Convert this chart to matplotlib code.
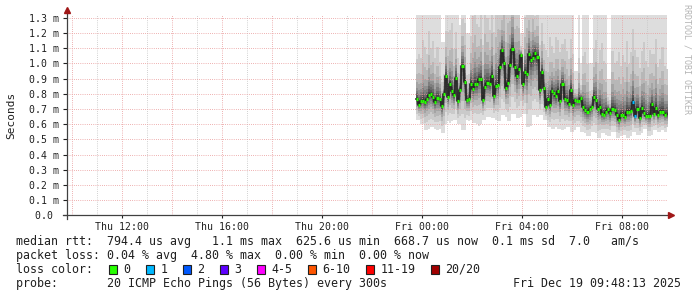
import matplotlib
matplotlib.use("Agg")
import matplotlib.pyplot as plt
import matplotlib.dates as mdates
import numpy as np
import pandas as pd
from matplotlib.patches import Rectangle

# ---- data (values in ms, one sample every 5 minutes) ----
first_sample = "2025-12-18 23:45:00"
window_end = "2025-12-19 09:48:13"

median_ms = [
    0.766, 0.728, 0.750, 0.755, 0.748, 0.766, 0.790, 0.799, 0.779, 0.748,
    0.772, 0.766, 0.720, 0.797, 0.917, 0.779, 0.867, 0.818, 0.790, 0.904,
    0.755, 0.827, 0.983, 0.878, 0.759, 0.766, 0.867, 0.832, 0.864, 0.862,
    0.897, 0.897, 0.761, 0.845, 0.873, 0.864, 0.917, 0.786, 0.851, 0.860,
    0.976,
    1.088, 1.005, 0.838, 0.873, 0.992, 1.095, 0.978, 0.917, 0.963, 1.057,
    0.864, 0.943, 0.930, 1.062, 1.022, 1.036, 1.071, 1.042, 0.825, 0.943,
    0.838, 0.715, 0.766, 0.728, 0.820, 0.803, 0.786, 0.820, 0.755, 0.867,
    0.768, 0.761, 0.735, 0.825, 0.728, 0.759, 0.755, 0.755, 0.772, 0.715,
    0.695, 0.682,
    0.702, 0.715, 0.781, 0.761, 0.702, 0.715, 0.665, 0.663, 0.682, 0.702,
    0.676, 0.702, 0.695, 0.663, 0.630, 0.663, 0.663, 0.649, 0.682, 0.682,
    0.689, 0.748, 0.656, 0.702, 0.643, 0.707, 0.676, 0.656, 0.656, 0.656,
    0.731, 0.669, 0.707, 0.660, 0.682, 0.682, 0.663, 0.667,
]

# fastest ping of each sample
min_ms = [
    0.63, 0.63, 0.60, 0.60, 0.56, 0.56, 0.57, 0.58, 0.58, 0.57,
    0.56, 0.57, 0.54, 0.54, 0.60, 0.62, 0.61, 0.62, 0.63, 0.63,
    0.60, 0.60, 0.56, 0.56, 0.63, 0.62, 0.63, 0.61, 0.61, 0.60,
    0.59, 0.60, 0.63, 0.63, 0.65, 0.65, 0.64, 0.64, 0.63, 0.62,
    0.62, 0.66, 0.66, 0.65, 0.62, 0.62, 0.67, 0.67, 0.64, 0.64,
    0.65, 0.67, 0.67, 0.58, 0.58, 0.59, 0.66, 0.66, 0.65, 0.66,
    0.66, 0.63, 0.63, 0.58, 0.58, 0.57, 0.57, 0.58, 0.57, 0.57,
    0.56, 0.57, 0.58, 0.58, 0.55, 0.55, 0.56, 0.58, 0.58, 0.55,
    0.55, 0.54, 0.52, 0.52, 0.55, 0.55, 0.54, 0.51, 0.51, 0.54,
    0.54, 0.53, 0.52, 0.52, 0.55, 0.55, 0.51, 0.51, 0.52, 0.53,
    0.53, 0.51, 0.51, 0.52, 0.55, 0.55, 0.53, 0.53, 0.54, 0.57,
    0.57, 0.52, 0.52, 0.53, 0.56, 0.56, 0.55, 0.55, 0.56, 0.55,
    0.55,
]

# slowest ping of each sample (many are above the 1.3 ms top of the graph)
max_ms = [
    1.45, 1.60, 1.50, 1.80, 1.70, 1.55, 1.90, 1.60, 1.75, 1.50,
    1.65, 1.40, 1.14, 1.14, 1.70, 1.90, 1.80, 2.00, 1.60, 1.70,
    1.50, 1.25, 1.80, 1.90, 1.20, 1.20, 1.70, 2.10, 2.20, 1.90,
    1.80, 2.00, 1.70, 2.30, 2.00, 1.80, 2.10, 1.90, 2.20, 2.40,
    2.00, 1.90, 2.30, 2.10, 2.50, 2.20, 2.40, 2.00, 2.30, 2.10,
    1.20, 1.20, 1.90, 2.20, 2.00, 1.80, 2.10, 1.70, 1.90, 1.60,
    1.80, 1.60, 1.70, 1.50, 1.90, 1.60, 1.50, 1.80, 1.70, 1.60,
    1.55, 1.80, 1.60, 1.50, 1.70, 1.60, 0.95, 0.95, 1.50, 1.00,
    1.60, 1.70, 1.50, 1.00, 1.00, 1.60, 1.80, 1.50, 1.70, 1.90,
    1.60, 1.50, 0.90, 0.90, 1.70, 1.50, 1.60, 1.80, 1.50, 1.70,
    1.60, 1.90, 1.50, 1.70, 2.00, 1.80, 1.60, 1.50, 1.70, 1.90,
    1.60, 1.50, 1.80, 1.60, 1.70, 1.90, 1.50, 1.60, 1.80, 1.50,
    1.45,
]

# lost pings out of 20 per sample
loss = [0] * len(median_ms)
loss[104] = 1
loss[105] = 1

loss_labels = ["0", "1", "2", "3", "4-5", "6-10", "11-19", "20/20"]
loss_colors = ["#26ff00", "#00b8ff", "#0059ff", "#5e00ff", "#ff00ff",
               "#ff5500", "#ff0000", "#a10000"]

y_ticks = [0.0, 0.1, 0.2, 0.3, 0.4, 0.5, 0.6, 0.7, 0.8, 0.9, 1.0, 1.1, 1.2, 1.3]

legend_rows = [
    "median rtt:  794.4 us avg   1.1 ms max  625.6 us min  668.7 us now  0.1 ms sd  7.0   am/s",
    "packet loss: 0.04 % avg  4.80 % max  0.00 % min  0.00 % now",
    "loss color:",
    "probe:       20 ICMP Echo Pings (56 Bytes) every 300s",
]
stamp = "Fri Dec 19 09:48:13 2025"

assert len(min_ms) == len(median_ms) == len(max_ms)

# ---- figure ----
W, H = 697, 297
MONO = "DejaVu Sans Mono"
fig = plt.figure(figsize=(W / 100, H / 100), dpi=100)
fig.patch.set_facecolor("white")

ax_top, ax_bot = 15.0, 215.4
ax = fig.add_axes([67 / W, 1 - ax_bot / H, 600 / W, (ax_bot - ax_top) / H])
ax.set_facecolor("white")

times = pd.date_range(first_sample, periods=len(median_ms), freq="5min")
t = mdates.date2num(times.to_pydatetime())
step = 300 / 86400.0
t_ext = np.append(t, t[-1] + step)

med = np.array(median_ms)
lo = np.array(min_ms)
hi = np.array(max_ms)


def ext(a):
    return np.append(a, a[-1])


# smoke: 10 ping pairs, outer light to inner dark
lo_frac = [1.0, 0.75, 0.55, 0.4, 0.3, 0.22, 0.15, 0.1, 0.06, 0.03]
hi_frac = [1.0, 0.38, 0.24, 0.16, 0.11, 0.08, 0.055, 0.035, 0.02, 0.01]
for j in range(10):
    g = int(190 / 10 * (10 - (j + 1))) + 50
    col = "#%02x%02x%02x" % (g, g, g)
    y0 = med - (med - lo) * lo_frac[j]
    y1 = med + (hi - med) * hi_frac[j]
    ax.fill_between(t_ext, ext(y0), ext(y1), step="post", color=col,
                    linewidth=0, antialiased=False, zorder=1)

# grid
end = pd.Timestamp(window_end)
start = end - pd.Timedelta(days=1)
ax.set_xlim(mdates.date2num(start.to_pydatetime()), mdates.date2num(end.to_pydatetime()))
ax.set_ylim(0, (ax_bot - ax_top) / 152.0)

dots = (0, (0.72, 1.44))
for h in pd.date_range(start.ceil("h"), end, freq="h"):
    c = "#e99a9a" if h.hour % 2 == 0 else "#c4c4c4"
    ax.axvline(mdates.date2num(h.to_pydatetime()), color=c, lw=0.72,
               linestyle=dots, zorder=2)
for v in y_ticks[1:]:
    ax.axhline(v, color="#e99a9a", lw=0.72, linestyle=dots, zorder=2)

# median line, coloured by loss
ax.step(t_ext, ext(med), where="post", color="#202020", lw=1.2, zorder=3)
ax.hlines(med, t, t + step, colors=[loss_colors[min(l, 7) if l < 4 else 4] for l in loss],
          lw=2.3, zorder=4)

# axes / ticks
for s in ax.spines.values():
    s.set_visible(False)
ax.set_yticks(y_ticks)
ax.set_yticklabels(["0.0 "] + ["%.1f m" % v for v in y_ticks[1:]])
label_hours = pd.date_range(start.ceil("4h"), end, freq="4h")
ax.set_xticks(mdates.date2num(label_hours.to_pydatetime()))
ax.set_xticklabels([h.strftime("%a %H:%M") for h in label_hours])
ax.tick_params(axis="y", length=3, width=0.8, pad=3, colors="#202020",
               labelsize=7.1, labelfontfamily=MONO)
ax.tick_params(axis="x", length=2, width=0.8, pad=2.5, colors="#202020",
               labelsize=7.1, labelfontfamily=MONO)

ax.plot([0, 0], [-0.02, 1.025], transform=ax.transAxes, color="#404040",
        lw=0.9, clip_on=False, zorder=5)
ax.plot([-0.007, 1.005], [0, 0], transform=ax.transAxes, color="#404040",
        lw=0.9, clip_on=False, zorder=5)
ax.plot([0], [1.025], marker="^", markersize=4, color="#a01818",
        transform=ax.transAxes, clip_on=False, zorder=6)
ax.plot([1.007], [0], marker=">", markersize=4, color="#a01818",
        transform=ax.transAxes, clip_on=False, zorder=6)


# ---- texts in pixel coordinates ----
def px(x, y):
    return x / W, 1 - y / H


fig.text(*px(11, 115), "Seconds", rotation=90, ha="center", va="center",
         fontsize=8, family=MONO, color="#202020")
fig.text(*px(687, 4), "RRDTOOL / TOBI OETIKER", rotation=270, ha="center",
         va="top", fontsize=6, family=MONO, color="#b4b4b4")

for k, row in enumerate(legend_rows):
    fig.text(*px(16, 245 + 14 * k), row, ha="left", va="baseline",
             fontsize=8.4, family=MONO, color="#202020")
fig.text(*px(681, 287), stamp, ha="right", va="baseline", fontsize=8.4,
         family=MONO, color="#202020")

bx = 109
for lab, col in zip(loss_labels, loss_colors):
    x0, y0 = px(bx, 273.5)
    fig.patches.append(Rectangle((x0, y0), 8 / W, 8.5 / H, transform=fig.transFigure,
                                 facecolor=col, edgecolor="#202020", lw=0.8))
    fig.text(*px(bx + 14.5, 273), lab, ha="left", va="baseline", fontsize=8.4,
             family=MONO, color="#202020")
    bx += 15 + 7 * (len(lab) + 2) + 1

fig.savefig("out.png", dpi=100, facecolor="white")
